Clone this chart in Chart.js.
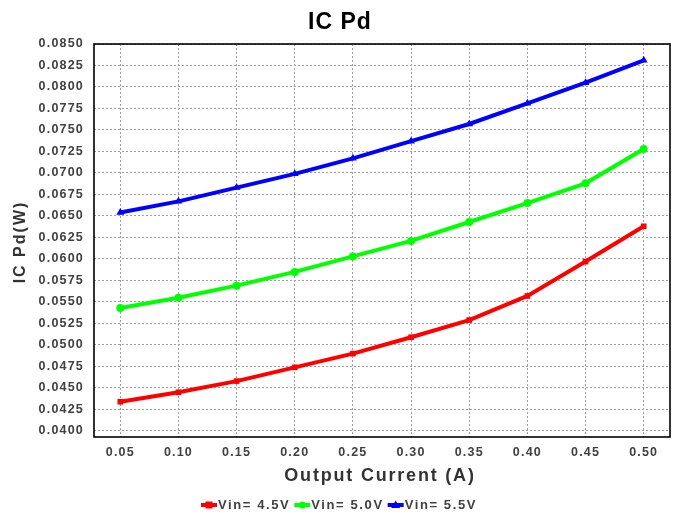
<!DOCTYPE html>
<html>
<head>
<meta charset="utf-8">
<script src="https://cdn.jsdelivr.net/npm/chart.js@4"></script>
<style>
  html, body { margin: 0; padding: 0; background: #ffffff; }
  #wrap { width: 675px; height: 515px; }
</style>
</head>
<body>
<div id="wrap"><canvas id="c" width="675" height="515"></canvas></div>
<script>
// ---- data ----
const chartTitle = 'IC Pd';
const xTitle = 'Output Current (A)';
const yTitle = 'IC Pd(W)';
const xCategories = [0.05, 0.10, 0.15, 0.20, 0.25, 0.30, 0.35, 0.40, 0.45, 0.50];
const yTickValues = [0.0400, 0.0425, 0.0450, 0.0475, 0.0500, 0.0525, 0.0550, 0.0575, 0.0600,
                     0.0625, 0.0650, 0.0675, 0.0700, 0.0725, 0.0750, 0.0775, 0.0800, 0.0825, 0.0850];
const seriesNames = ['Vin= 4.5V', 'Vin= 5.0V', 'Vin= 5.5V'];
const vin45 = [0.0434, 0.0445, 0.0458, 0.0474, 0.0490, 0.0509, 0.0529, 0.0557, 0.0597, 0.0638];
const vin50 = [0.0543, 0.0555, 0.0569, 0.0585, 0.0603, 0.0621, 0.0643, 0.0665, 0.0688, 0.0728];
const vin55 = [0.0654, 0.0667, 0.0683, 0.0699, 0.0717, 0.0737, 0.0757, 0.0781, 0.0805, 0.0831];

const colors = ['#ff0000', '#00ff00', '#0000ff'];
const markers = ['rect', 'circle', 'triangle'];
const FONT = '"Liberation Sans", Arial, sans-serif';

function toPoints(vals) { return vals.map((v, i) => ({ x: xCategories[i], y: v })); }

const datasets = [vin45, vin50, vin55].map((vals, i) => ({
  label: seriesNames[i],
  data: toPoints(vals),
  borderColor: colors[i],
  backgroundColor: colors[i],
  borderWidth: 4,
  pointStyle: markers[i],
  pointRadius: i === 2 ? 4.5 : 4,
  pointBorderWidth: 0,
  pointBackgroundColor: colors[i],
  tension: 0,
  fill: false
}));

const decor = {
  id: 'decor',
  beforeDraw(chart) {
    chart.ctx.letterSpacing = '1.2px';
  },
  afterDraw(chart) {
    const ctx = chart.ctx;
    const a = chart.chartArea;
    ctx.save();
    // frame
    ctx.letterSpacing = '0px';
    ctx.strokeStyle = '#000000';
    ctx.lineWidth = 1.6;
    ctx.setLineDash([]);
    ctx.strokeRect(a.left, a.top, a.right - a.left, a.bottom - a.top);

    // title
    ctx.fillStyle = '#000000';
    ctx.font = 'bold 23px ' + FONT;
    ctx.letterSpacing = '1px';
    ctx.textAlign = 'center';
    ctx.textBaseline = 'middle';
    ctx.fillText(chartTitle, 340, 23);

    // x title
    ctx.fillStyle = '#333333';
    ctx.font = 'bold 18px ' + FONT;
    ctx.letterSpacing = '1.8px';
    ctx.fillText(xTitle, 380, 476);

    // y title
    ctx.save();
    ctx.translate(21, 242);
    ctx.rotate(-Math.PI / 2);
    ctx.font = 'bold 16px ' + FONT;
    ctx.letterSpacing = '2px';
    ctx.fillText(yTitle, 0, 0);
    ctx.restore();

    // legend
    ctx.font = 'bold 13px ' + FONT;
    ctx.letterSpacing = '1.6px';
    ctx.textAlign = 'left';
    const symW = 16, gap = 1, itemGap = 4;
    const widths = seriesNames.map(n => ctx.measureText(n).width);
    const total = widths.reduce((s, w) => s + symW + gap + w, 0) + itemGap * (seriesNames.length - 1);
    let x = 339 - total / 2;
    const ly = 505;
    seriesNames.forEach((n, i) => {
      ctx.strokeStyle = colors[i];
      ctx.fillStyle = colors[i];
      ctx.lineWidth = 4;
      ctx.beginPath();
      ctx.moveTo(x, ly);
      ctx.lineTo(x + symW, ly);
      ctx.stroke();
      const cx = x + symW / 2;
      ctx.beginPath();
      if (markers[i] === 'rect') ctx.rect(cx - 3.5, ly - 3.5, 7, 7);
      else if (markers[i] === 'circle') ctx.arc(cx, ly, 3.5, 0, Math.PI * 2);
      else { ctx.moveTo(cx, ly - 4.5); ctx.lineTo(cx + 4.5, ly + 3); ctx.lineTo(cx - 4.5, ly + 3); ctx.closePath(); }
      ctx.fill();
      ctx.fillStyle = '#404040';
      ctx.fillText(n, x + symW + gap, ly + 0.5);
      x += symW + gap + widths[i] + itemGap;
    });
    ctx.restore();
  }
};

new Chart(document.getElementById('c'), {
  type: 'line',
  data: { datasets },
  options: {
    responsive: false,
    animation: false,
    devicePixelRatio: 1,
    layout: { padding: { left: 0, top: 44, right: 5, bottom: 0 } },
    plugins: {
      legend: { display: false },
      title: { display: false },
      tooltip: { enabled: false }
    },
    scales: {
      x: {
        type: 'linear',
        min: 0.0274,
        max: 0.5226,
        afterBuildTicks(scale) { scale.ticks = xCategories.map(v => ({ value: v })); },
        afterFit(scale) { scale.height = 78; },
        ticks: {
          padding: 8,
          color: '#404040',
          font: { family: FONT, size: 12.5, weight: 'bold' },
          callback: v => Number(v).toFixed(2),
          maxRotation: 0,
          autoSkip: false
        },
        grid: { color: '#a0a0a0', lineWidth: 1, drawTicks: false },
        border: { display: false, dash: [2, 2] }
      },
      y: {
        type: 'linear',
        min: 0.0393,
        max: 0.0850,
        afterBuildTicks(scale) { scale.ticks = yTickValues.map(v => ({ value: v })); },
        afterFit(scale) { scale.width = 94; },
        ticks: {
          padding: 10,
          color: '#404040',
          font: { family: FONT, size: 12.5, weight: 'bold' },
          callback: v => Number(v).toFixed(4),
          autoSkip: false
        },
        grid: { color: '#a0a0a0', lineWidth: 1, drawTicks: false },
        border: { display: false, dash: [2, 2] }
      }
    }
  },
  plugins: [decor]
});
</script>
</body>
</html>
